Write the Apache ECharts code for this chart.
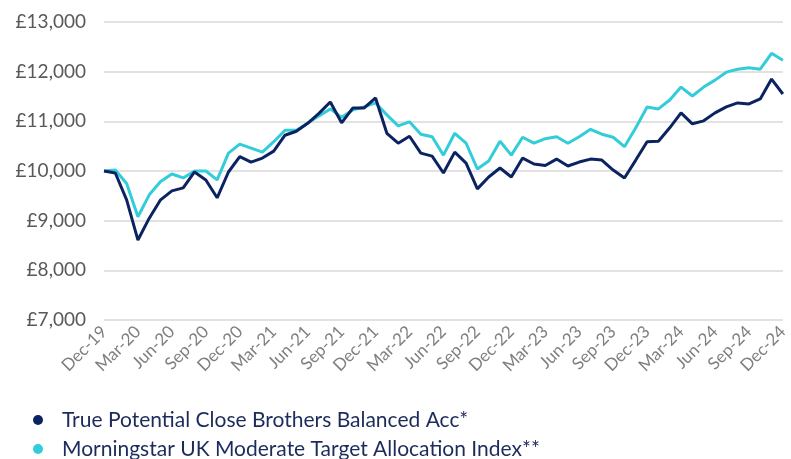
<!DOCTYPE html>
<html>
<head>
<meta charset="utf-8">
<script src="https://cdn.jsdelivr.net/npm/echarts@6/dist/echarts.min.js"></script>
<style>
  html, body { margin: 0; padding: 0; background: #fff; }
  #chart { width: 791px; height: 459px; }
</style>
</head>
<body>
<div id="chart"></div>
<script>
// monthly points, Dec-19 .. Dec-24
var months = [
  'Dec-19', 'Jan-20', 'Feb-20', 'Mar-20', 'Apr-20', 'May-20', 'Jun-20', 'Jul-20', 'Aug-20', 'Sep-20', 'Oct-20', 'Nov-20',
  'Dec-20', 'Jan-21', 'Feb-21', 'Mar-21', 'Apr-21', 'May-21', 'Jun-21', 'Jul-21', 'Aug-21', 'Sep-21', 'Oct-21', 'Nov-21',
  'Dec-21', 'Jan-22', 'Feb-22', 'Mar-22', 'Apr-22', 'May-22', 'Jun-22', 'Jul-22', 'Aug-22', 'Sep-22', 'Oct-22', 'Nov-22',
  'Dec-22', 'Jan-23', 'Feb-23', 'Mar-23', 'Apr-23', 'May-23', 'Jun-23', 'Jul-23', 'Aug-23', 'Sep-23', 'Oct-23', 'Nov-23',
  'Dec-23', 'Jan-24', 'Feb-24', 'Mar-24', 'Apr-24', 'May-24', 'Jun-24', 'Jul-24', 'Aug-24', 'Sep-24', 'Oct-24', 'Nov-24',
  'Dec-24'
]

var fundValues = [
  10000, 9960, 9420, 8610, 9050, 9420, 9600, 9660, 9980, 9820, 9460, 9980,
  10290, 10180, 10260, 10400, 10720, 10800, 10960, 11160, 11390, 10970, 11270, 11270,
  11470, 10760, 10560, 10700, 10360, 10300, 9960, 10380, 10160, 9640, 9880, 10060,
  9880, 10260, 10140, 10110, 10240, 10100, 10180, 10240, 10220, 10020, 9860, 10220,
  10590, 10600, 10870, 11170, 10950, 11010, 11170, 11290, 11370, 11350, 11450, 11850,
  11550
]

var indexValues = [
  10000, 10020, 9750, 9080, 9520, 9790, 9940, 9860, 10000, 10000, 9820, 10360,
  10540, 10460, 10380, 10590, 10820, 10820, 10960, 11110, 11250, 11080, 11230, 11290,
  11370, 11130, 10910, 10990, 10740, 10690, 10320, 10760, 10560, 10040, 10200, 10600,
  10320, 10680, 10560, 10650, 10690, 10560, 10690, 10840, 10740, 10680, 10490, 10870,
  11290, 11250, 11430, 11690, 11510, 11690, 11830, 11990, 12050, 12080, 12050, 12370,
  12230
]

var seriesNames = [
  'True Potential Close Brothers Balanced Acc*',
  'Morningstar UK Moderate Target Allocation Index**'
]

var itemColor = ['#0b2461', '#33cdd9']

var legendText = {
  fontFamily: 'Lato',
  fontSize: 21,
  lineHeight: 22,
  color: '#1c2b5c',
  padding: [0, 0, 0, 14]
}

var chart = echarts.init(document.getElementById('chart'))

chart.setOption({
  animation: false,
  textStyle: {
    fontFamily: 'Lato'
  },
  grid: {
    top: 22,
    left: 104,
    right: 3,
    bottom: 139
  },
  // two stacked one-item legends
  legend: [{
    left: 28,
    top: 404,
    itemWidth: 10,
    itemHeight: 10,
    icon: 'circle',
    textStyle: legendText,
    data: [seriesNames[0]]
  }, {
    left: 28,
    top: 433,
    itemWidth: 10,
    itemHeight: 10,
    icon: 'circle',
    textStyle: legendText,
    data: [seriesNames[1]]
  }],
  xAxis: {
    type: 'category',
    data: months,
    boundaryGap: false,
    axisLine: { show: false },
    axisTick: { show: false },
    axisLabel: {
      interval: 2,
      rotate: 45,
      fontSize: 17,
      color: '#7f7f7f',
      margin: 9
    }
  },
  yAxis: {
    type: 'value',
    min: 7000,
    max: 13000,
    interval: 1000,
    axisLine: { show: false },
    axisTick: { show: false },
    splitLine: {
      lineStyle: { color: '#d9d9d9', width: 1.5 }
    },
    axisLabel: {
      fontSize: 19,
      color: '#595959',
      margin: 18,
      formatter: function (v) {
        return '£' + v.toLocaleString('en-GB')
      }
    }
  },
  series: [{
    name: seriesNames[1],
    type: 'line',
    data: indexValues,
    showSymbol: false,
    itemStyle: { color: itemColor[1] },
    lineStyle: { width: 3, color: itemColor[1] }
  }, {
    name: seriesNames[0],
    type: 'line',
    data: fundValues,
    showSymbol: false,
    itemStyle: { color: itemColor[0] },
    lineStyle: { width: 3, color: itemColor[0] }
  }]
})
</script>
</body>
</html>
